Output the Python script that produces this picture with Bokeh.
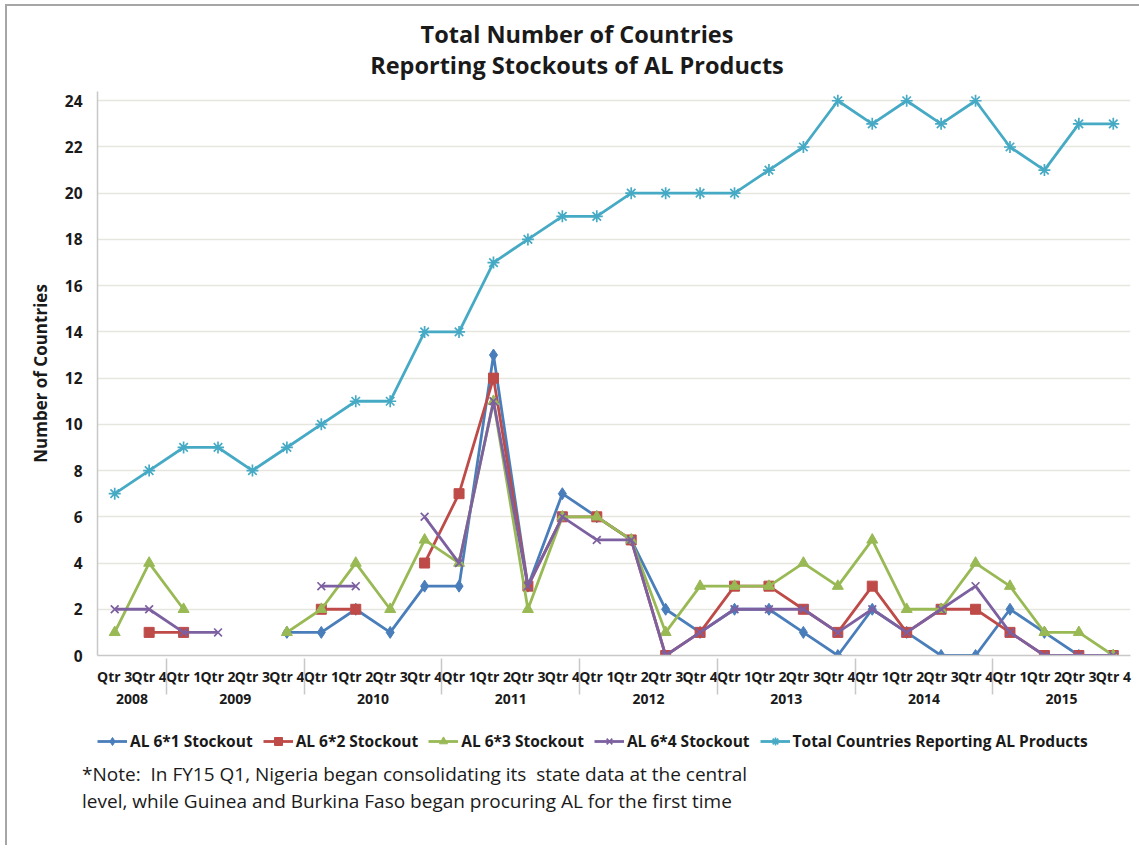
from bokeh.plotting import figure
from bokeh.layouts import column
from bokeh.models import (FactorRange, Range1d, Legend, LegendItem, Div,
                          ColumnDataSource, SingleIntervalTicker)
from bokeh.embed import file_html
from bokeh.resources import INLINE

nan = float("nan")

years = ["2008", "2009", "2010", "2011", "2012", "2013", "2014", "2015"]
year_quarters = {
    "2008": ["Qtr 3", "Qtr 4"],
    "2009": ["Qtr 1", "Qtr 2", "Qtr 3", "Qtr 4"],
    "2010": ["Qtr 1", "Qtr 2", "Qtr 3", "Qtr 4"],
    "2011": ["Qtr 1", "Qtr 2", "Qtr 3", "Qtr 4"],
    "2012": ["Qtr 1", "Qtr 2", "Qtr 3", "Qtr 4"],
    "2013": ["Qtr 1", "Qtr 2", "Qtr 3", "Qtr 4"],
    "2014": ["Qtr 1", "Qtr 2", "Qtr 3", "Qtr 4"],
    "2015": ["Qtr 1", "Qtr 2", "Qtr 3", "Qtr 4"],
}

al_6x1 = [nan, nan, nan, nan, nan, 1, 1, 2, 1, 3, 3, 13, 3, 7, 6, 5, 2, 1,
          2, 2, 1, 0, 2, 1, 0, 0, 2, 1, 0, 0]
al_6x2 = [nan, 1, 1, nan, nan, nan, 2, 2, nan, 4, 7, 12, 3, 6, 6, 5, 0, 1,
          3, 3, 2, 1, 3, 1, 2, 2, 1, 0, 0, 0]
al_6x3 = [1, 4, 2, nan, nan, 1, 2, 4, 2, 5, 4, 11, 2, 6, 6, 5, 1, 3,
          3, 3, 4, 3, 5, 2, 2, 4, 3, 1, 1, 0]
al_6x4 = [2, 2, 1, 1, nan, nan, 3, 3, nan, 6, 4, 11, 3, 6, 5, 5, 0, 1,
          2, 2, 2, 1, 2, 1, 2, 3, 1, 0, 0, 0]
total_reporting = [7, 8, 9, 9, 8, 9, 10, 11, 11, 14, 14, 17, 18, 19, 19, 20, 20, 20,
                   20, 21, 22, 24, 23, 24, 23, 24, 22, 21, 23, 23]

series_names = ["AL 6*1 Stockout", "AL 6*2 Stockout", "AL 6*3 Stockout",
                "AL 6*4 Stockout", "Total Countries Reporting AL Products"]
series_colors = ["#4A7EBB", "#BE4B48", "#98B954", "#7D60A0", "#46AAC5"]
series_markers = ["diamond", "square", "triangle", "x", "asterisk"]
series_sizes = [12, 10, 11, 11, 12]

title_lines = ["Total Number of Countries", "Reporting Stockouts of AL Products"]
note_lines = ["*Note:  In FY15 Q1, Nigeria began consolidating its  state data at the central",
              "level, while Guinea and Burkina Faso began procuring AL for the first time"]

factors = [(y, q) for y in years for q in year_quarters[y]]
cols = ["s1", "s2", "s3", "s4", "s5"]

FONT = "Open Sans"
INK = "#1a1a1a"
BORDER = "#a6a6a6"
W = 1132          # content width (page is 1139, minus 7px left margin+border)

# ---------- title ----------
title_html = (
    f'<div style="position:relative;width:{W}px;height:85px;">'
    f'<div style="position:absolute;left:0;top:13px;width:1140px;text-align:center;'
    f'font-family:\'{FONT}\';font-weight:bold;font-size:23.5px;line-height:31px;'
    f'color:{INK};white-space:nowrap;">'
    + "<br>".join(title_lines) + '</div></div>'
)
top = Div(text=title_html, width=W, height=85, margin=0)

# ---------- main chart ----------
p = figure(frame_width=1033, frame_height=564,
           x_range=FactorRange(*factors, group_padding=0, range_padding=0),
           y_range=Range1d(0, 24.4),
           output_backend="svg", toolbar_location=None,
           min_border_left=90, min_border_right=9, min_border_top=0,
           min_border_bottom=62)
p.outline_line_color = None
p.background_fill_color = "white"
p.border_fill_color = "white"

src = ColumnDataSource(dict(x=factors, s1=al_6x1, s2=al_6x2, s3=al_6x3,
                            s4=al_6x4, s5=total_reporting))


def add_series(fig, i, col):
    c = series_colors[i]
    r1 = fig.line("x", col, source=src, line_color=c, line_width=2.8)
    r2 = fig.scatter("x", col, source=src, marker=series_markers[i],
                     size=series_sizes[i], fill_color=c, line_color=c,
                     line_width=1.7 if series_markers[i] in ("x", "asterisk") else 1)
    return r1, r2


for i, col in enumerate(cols):
    add_series(p, i, col)

p.yaxis.ticker = SingleIntervalTicker(interval=2)
p.yaxis.minor_tick_line_color = None
p.yaxis.major_tick_line_color = None
p.yaxis.axis_line_color = "#c8c8c8"
p.yaxis.axis_line_width = 1.5
p.yaxis.major_label_text_font = FONT
p.yaxis.major_label_text_font_style = "bold"
p.yaxis.major_label_text_font_size = "15.5px"
p.yaxis.major_label_text_color = INK
p.yaxis.major_label_standoff = 9
p.yaxis.axis_label = "Number of Countries"
p.yaxis.axis_label_text_font = FONT
p.yaxis.axis_label_text_font_style = "bold"
p.yaxis.axis_label_text_font_size = "17px"
p.yaxis.axis_label_text_color = INK
p.yaxis.axis_label_standoff = 10

p.xaxis.major_tick_line_color = None
p.xaxis.axis_line_color = "#c8c8c8"
p.xaxis.axis_line_width = 1.5
p.xaxis.major_label_text_font = FONT
p.xaxis.major_label_text_font_style = "bold"
p.xaxis.major_label_text_font_size = "14px"
p.xaxis.major_label_text_color = INK
p.xaxis.group_text_font = FONT
p.xaxis.group_text_font_style = "bold"
p.xaxis.group_text_font_size = "14px"
p.xaxis.group_text_color = INK
p.xaxis.separator_line_color = "#c8c8c8"
p.xaxis.separator_line_width = 1.5

p.xgrid.grid_line_color = None
p.ygrid.grid_line_color = "#e6e6de"
p.ygrid.grid_line_width = 1.5

# ---------- legend strip (same series, drawn outside its visible y window) ----------
bot = figure(width=W, height=44, x_range=p.x_range, y_range=Range1d(100, 101),
             x_axis_type=None, y_axis_type=None, output_backend="svg",
             toolbar_location=None, min_border=0, min_border_left=0,
             min_border_right=0, min_border_top=0, min_border_bottom=0)
bot.outline_line_color = None
bot.xgrid.grid_line_color = None
bot.ygrid.grid_line_color = None
bot.background_fill_color = "white"
bot.border_fill_color = "white"

items = []
for i, col in enumerate(cols):
    r1, r2 = add_series(bot, i, col)
    items.append(LegendItem(label=series_names[i], renderers=[r1, r2]))

legend = Legend(items=items, orientation="horizontal", location=(0, 9),
                label_text_font=FONT, label_text_font_style="bold",
                label_text_font_size="15.5px", label_text_color=INK,
                glyph_width=30, spacing=10, label_standoff=3,
                border_line_color=None, background_fill_alpha=0,
                margin=0, padding=2)
bot.add_layout(legend, "center")

# ---------- note ----------
note_html = (
    f'<div style="position:relative;width:{W}px;height:84px;">'
    f'<div style="position:absolute;left:75px;top:0px;font-family:\'{FONT}\';'
    f'font-size:19px;line-height:27px;color:{INK};white-space:pre;">'
    + "<br>".join(note_lines) + '</div></div>'
)
notes = Div(text=note_html, width=W, height=84, margin=0)

layout = column(top, p, bot, notes, spacing=0,
                styles={"border-left": f"2px solid {BORDER}",
                        "border-top": f"2px solid {BORDER}",
                        "margin-left": "5px", "margin-top": "4px"})
open("out.html", "w").write(file_html(layout, INLINE))
